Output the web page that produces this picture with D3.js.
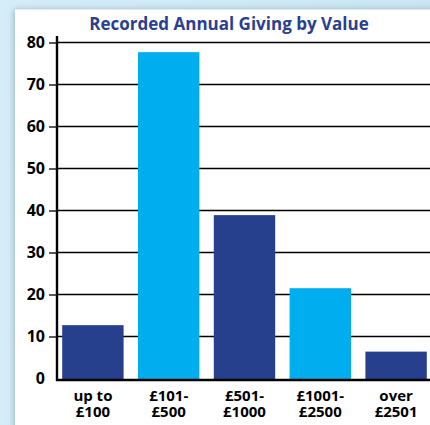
<!DOCTYPE html>
<html>
<head>
<meta charset="utf-8">
<script src="https://cdn.jsdelivr.net/npm/d3@7"></script>
<style>
  html, body { margin: 0; padding: 0; background: #d3ebf7; }
  svg { display: block; }
  text { font-family: "Open Sans", "DejaVu Sans", sans-serif; font-weight: 700; }
</style>
</head>
<body>
<svg id="chart" width="430" height="425"></svg>
<script>
const title = "Recorded Annual Giving by Value";
const categories = ["up to|£100", "£101-|£500", "£501-|£1000", "£1001-|£2500", "over|£2501"];
const values = [12.7, 77.7, 38.9, 21.5, 6.4];
const barColors = ["#26408e", "#00aeef", "#26408e", "#00aeef", "#26408e"];
const yTicks = [0, 10, 20, 30, 40, 50, 60, 70, 80];

const svg = d3.select("#chart");

const defs = svg.append("defs");
const grad = defs.append("linearGradient").attr("id", "bg").attr("x1", 0).attr("y1", 0).attr("x2", 1).attr("y2", 0);
grad.append("stop").attr("offset", 0).attr("stop-color", "#d5edf8");
grad.append("stop").attr("offset", 1).attr("stop-color", "#cbe6f4");
const f = defs.append("filter").attr("id", "sh").attr("x", "-10%").attr("y", "-10%").attr("width", "130%").attr("height", "130%");
f.append("feDropShadow").attr("dx", -1).attr("dy", 0).attr("stdDeviation", 3).attr("flood-color", "#6f8fa6").attr("flood-opacity", 0.6);

svg.append("rect").attr("width", 430).attr("height", 425).attr("fill", "url(#bg)");
svg.append("rect").attr("x", 15).attr("y", 9.5).attr("width", 430).attr("height", 430)
  .attr("fill", "#ffffff").attr("filter", "url(#sh)");

const x = d3.scaleBand().domain(categories).range([55, 434]).paddingInner(0.19).paddingOuter(0.095);
const y = d3.scaleLinear().domain([0, 80]).range([378.5, 42.5]);

// gridlines
svg.append("g").selectAll("line").data(yTicks.filter(d => d > 0)).join("line")
  .attr("x1", 57).attr("x2", 430)
  .attr("y1", d => y(d)).attr("y2", d => y(d))
  .attr("stroke", "#000").attr("stroke-width", 1.3);

// bars
svg.append("g").selectAll("rect").data(values).join("rect")
  .attr("x", (d, i) => x(categories[i]))
  .attr("width", x.bandwidth())
  .attr("y", d => y(d))
  .attr("height", d => y(0) - y(d) + 1)
  .attr("fill", (d, i) => barColors[i]);

// y axis
const yAxis = d3.axisLeft(y).tickValues(yTicks).tickSize(8).tickPadding(4);
const gy = svg.append("g").attr("transform", "translate(57,0)").call(yAxis);
gy.select(".domain").remove();
gy.selectAll(".tick line").attr("stroke", "#000").attr("stroke-width", 1.3);
gy.selectAll(".tick").filter(d => d === 0).select("line").remove();
gy.selectAll(".tick text").attr("font-size", 16).attr("fill", "#000")
  .style("font-family", "'Open Sans', sans-serif").style("font-weight", 700);

svg.append("line").attr("x1", 57).attr("x2", 57).attr("y1", 36).attr("y2", 381)
  .attr("stroke", "#000").attr("stroke-width", 2.4);
svg.append("line").attr("x1", 56).attr("x2", 430).attr("y1", 380).attr("y2", 380)
  .attr("stroke", "#000").attr("stroke-width", 2.4);

// x labels (two lines each)
const gx = svg.append("g");
categories.forEach(c => {
  const parts = c.split("|");
  parts.forEach((p, j) => {
    gx.append("text").attr("text-anchor", "middle").attr("font-size", 15).attr("fill", "#000")
      .attr("x", x(c) + x.bandwidth() / 2).attr("y", 401 + j * 15.5).text(p);
  });
});

svg.append("text").attr("x", 229).attr("y", 30).attr("text-anchor", "middle")
  .attr("font-size", 17).attr("fill", "#2a3f8f").text(title);
</script>
</body>
</html>
